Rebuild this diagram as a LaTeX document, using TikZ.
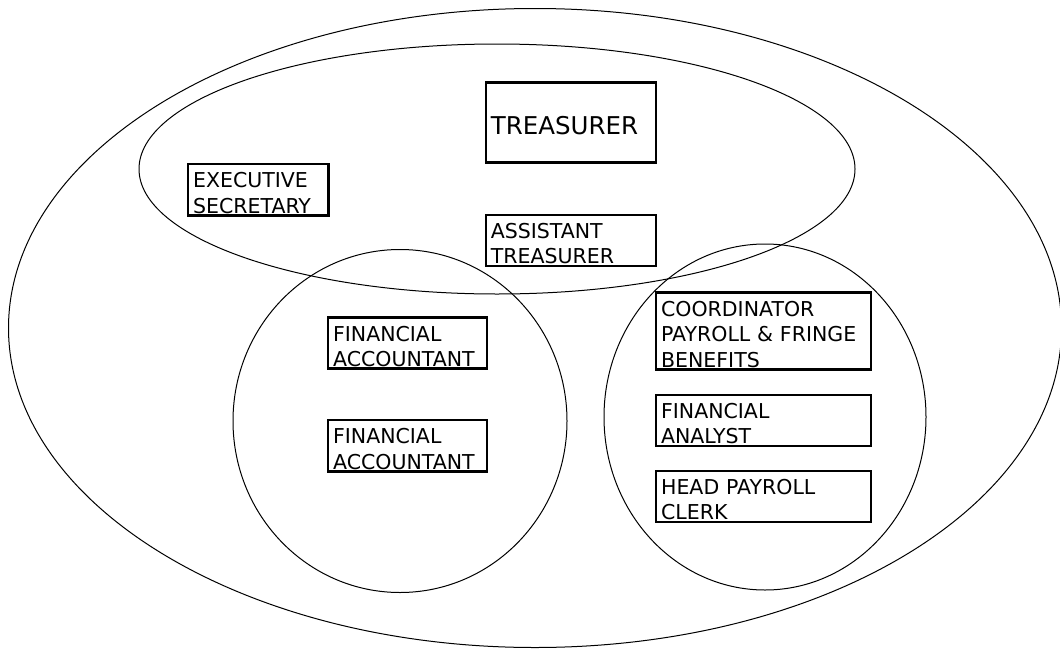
\documentclass[tikz,border=0pt]{standalone}
\usepackage{fontspec}
\setmainfont{DejaVu Sans}
\newcommand\postfont{\fontsize{20.5}{25.5}\selectfont}
\newcommand\headfont{\fontsize{24.5}{29}\selectfont}

\begin{document}
\begin{tikzpicture}[x=1pt, y=-1pt,
  ring/.style={line width=1pt},
  post/.style={draw, line width=2.6pt, outer sep=0pt, anchor=north west,
               align=left, inner xsep=5pt, inner ysep=2pt, font=\postfont,
               execute at begin node={\rule{0pt}{21.5pt}}}]

\useasboundingbox (0,0) rectangle (1060,648);

% groups
\draw[ring] (535,328) ellipse [x radius=526.5pt, y radius=319.5pt];
\draw[ring] (497,169) ellipse [x radius=358pt, y radius=125pt];
\draw[ring] (400,421) ellipse [x radius=167pt, y radius=171.5pt];
\draw[ring] (765,417) ellipse [x radius=161pt, y radius=173pt];

% positions
\node[post, text width=160pt, minimum height=80pt, font=\headfont,
      execute at begin node={\rule{0pt}{25pt}}](treasurer) at (485.8,82.5) {TREASURER};
\node[post, text width=130.4pt](secretary) at (188.1,164.1) {EXECUTIVE\\SECRETARY};
\node[post, text width=160pt](assistant) at (485.8,214.8) {ASSISTANT\\TREASURER};
\node[post, text width=148.8pt](accountant1) at (328.1,317.5) {FINANCIAL\\ACCOUNTANT};
\node[post, text width=148.8pt](accountant2) at (328.1,420.1) {FINANCIAL\\ACCOUNTANT};
\node[post, text width=204.8pt](coordinator) at (656.1,292.5) {COORDINATOR\\PAYROLL \& FRINGE\\BENEFITS};
\node[post, text width=204.8pt](analyst) at (656.1,394.8) {FINANCIAL\\ANALYST};
\node[post, text width=204.8pt](clerk) at (656.1,470.8) {HEAD PAYROLL\\CLERK};

\end{tikzpicture}
\end{document}
